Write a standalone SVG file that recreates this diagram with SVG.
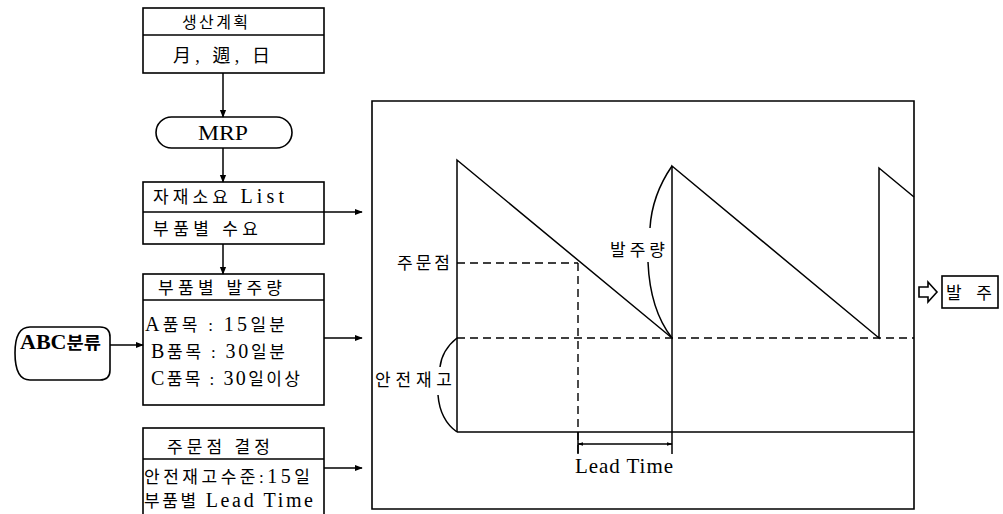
<svg xmlns="http://www.w3.org/2000/svg" width="1003" height="514" viewBox="0 0 1003 514">
<style>
  .t{font-family:"Liberation Serif","Noto Sans CJK KR",serif;font-size:17px;fill:#000;white-space:pre}
  .L{font-size:20px}
  .box{fill:none;stroke:#000;stroke-width:1.6}
  .ln{fill:none;stroke:#000;stroke-width:1.5}
  .dash{fill:none;stroke:#000;stroke-width:1.4;stroke-dasharray:8 5}
</style>
<defs>
  <marker id="ah" viewBox="0 0 10 10" refX="9" refY="5" markerWidth="8" markerHeight="8" orient="auto" markerUnits="userSpaceOnUse">
    <path d="M0,1 L10,5 L0,9 z" fill="#000"/>
  </marker>
  <marker id="sm" viewBox="0 0 10 10" refX="9" refY="5" markerWidth="6" markerHeight="6" orient="auto-start-reverse" markerUnits="userSpaceOnUse">
    <path d="M0,2 L10,5 L0,8 z" fill="#000"/>
  </marker>
</defs>

<g id="plan">
  <rect class="box" x="143" y="8" width="181" height="65"/>
  <line class="box" x1="143" y1="35" x2="324" y2="35"/>
  <text class="t" x="182" y="28" textLength="66" lengthAdjust="spacing" style="font-size:16px">생산계획</text>
  <text class="t" x="173" y="62" textLength="97" lengthAdjust="spacing" style="font-size:18px">月, 週, 日</text>
</g>
<g id="mrp">
  <rect class="box" x="156" y="117" width="136" height="31" rx="15.5"/>
  <text class="t L" x="198" y="140" textLength="50" lengthAdjust="spacingAndGlyphs">MRP</text>
</g>
<g id="list">
  <rect class="box" x="143" y="182" width="181" height="62"/>
  <line class="box" x1="143" y1="212" x2="324" y2="212"/>
  <text class="t" x="153" y="203" textLength="131" lengthAdjust="spacing">자재소요 <tspan class="L">List</tspan></text>
  <text class="t" x="153" y="235" textLength="105" lengthAdjust="spacing">부품별 수요</text>
</g>
<g id="order-qty">
  <rect class="box" x="143" y="274" width="181" height="131"/>
  <line class="box" x1="143" y1="300" x2="324" y2="300"/>
  <text class="t" x="158" y="294" textLength="124" lengthAdjust="spacing">부품별 발주량</text>
  <text class="t" x="145" y="331" textLength="140" lengthAdjust="spacing"><tspan class="L">A</tspan>품목 : <tspan class="L">15</tspan>일분</text>
  <text class="t" x="151" y="358" textLength="134" lengthAdjust="spacing"><tspan class="L">B</tspan>품목 : <tspan class="L">30</tspan>일분</text>
  <text class="t" x="151" y="385" textLength="149" lengthAdjust="spacing"><tspan class="L">C</tspan>품목 : <tspan class="L">30</tspan>일이상</text>
</g>
<g id="abc">
  <path class="box" d="M30,327 L100,327 Q110,327 110,337 L110,370 Q110,380 100,380 L30,380 Q15,380 15,353 Q15,327 30,327 z"/>
  <text class="t" x="20" y="349" textLength="81" lengthAdjust="spacingAndGlyphs" style="font-weight:bold"><tspan class="L">ABC</tspan>분류</text>
</g>
<g id="reorder">
  <rect class="box" x="143" y="428" width="181" height="100"/>
  <line class="box" x1="143" y1="459" x2="324" y2="459"/>
  <text class="t" x="167" y="453" textLength="103" lengthAdjust="spacing">주문점 결정</text>
  <text class="t" x="144" y="483" textLength="166" lengthAdjust="spacing">안전재고수준:<tspan class="L">15</tspan>일</text>
  <text class="t" x="144" y="507" textLength="169" lengthAdjust="spacing">부품별 <tspan class="L">Lead Time</tspan></text>
</g>
<g id="order">
  <path d="M919,287 L928,287 L928,282 L937,292 L928,302 L928,297 L919,297 z" fill="none" stroke="#000" stroke-width="1.6"/>
  <rect class="box" x="942" y="276" width="56" height="32"/>
  <text class="t" x="946" y="299" textLength="46" lengthAdjust="spacing">발 주</text>
</g>

<g id="chart">
  <path class="box" d="M372,101 L914,101 L914,509 L372,509 z"/>
  <path class="ln" d="M457,432 L457,160 L672,338 L672,166 L879,338 L879,168 L914,197"/>
  <line class="ln" x1="672" y1="338" x2="672" y2="454"/>
  <line class="ln" x1="457" y1="432" x2="914" y2="432"/>
  <line class="dash" x1="457" y1="338" x2="914" y2="338"/>
  <line class="dash" x1="457" y1="263" x2="578" y2="263"/>
  <line class="dash" x1="578" y1="263" x2="578" y2="454"/>
  <line class="ln" x1="578" y1="444" x2="672" y2="444" marker-start="url(#sm)" marker-end="url(#sm)"/>
  <line class="ln" x1="578" y1="432" x2="578" y2="454"/>
  <path class="ln" d="M672,166 Q652,195 650,228"/>
  <path class="ln" d="M648,262 Q650,310 672,338"/>
  <path class="ln" d="M457,338 Q442,350 440,367"/>
  <path class="ln" d="M438,395 Q440,420 457,432"/>
  <text class="t" x="397" y="269" textLength="53" lengthAdjust="spacing">주문점</text>
  <text class="t" x="610" y="256" textLength="55" lengthAdjust="spacing">발주량</text>
  <text class="t" x="375" y="386" textLength="77" lengthAdjust="spacing">안전재고</text>
  <text class="t" x="575" y="473" textLength="98" lengthAdjust="spacing" style="font-size:21px">Lead Time</text>
</g>

<g id="connectors">
  <line class="ln" x1="223" y1="73" x2="223" y2="117" marker-end="url(#ah)"/>
  <line class="ln" x1="223" y1="148" x2="223" y2="182" marker-end="url(#ah)"/>
  <line class="ln" x1="223" y1="244" x2="223" y2="274" marker-end="url(#ah)"/>
  <line class="ln" x1="324" y1="212" x2="362" y2="212" marker-end="url(#ah)"/>
  <line class="ln" x1="324" y1="338" x2="362" y2="338" marker-end="url(#ah)"/>
  <line class="ln" x1="324" y1="468" x2="362" y2="468" marker-end="url(#ah)"/>
  <line class="ln" x1="110" y1="345" x2="143" y2="345" marker-end="url(#ah)"/>
</g>
</svg>
